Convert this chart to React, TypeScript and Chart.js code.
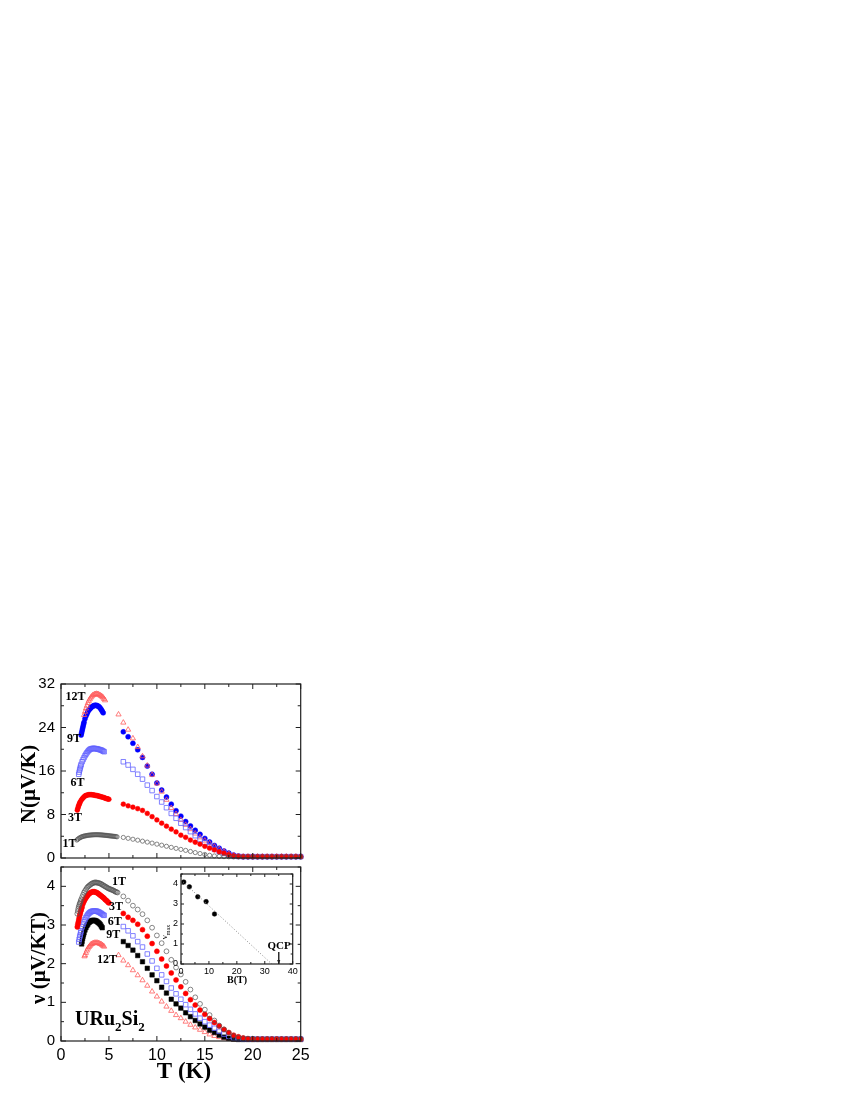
import React, { useEffect, useRef } from "react";
import { Chart, registerables } from "chart.js";
Chart.register(...registerables);

const SERIF = '"Liberation Serif", "Times New Roman", serif';
const SANS = '"Liberation Sans", Arial, sans-serif';

// ---------- shared high-temperature grid ----------
const tHigh = [6, 6.5, 7, 7.5, 8, 8.5, 9, 9.5, 10, 10.5, 11, 11.5, 12, 12.5, 13, 13.5, 14, 14.5, 15, 15.5, 16, 16.5, 17, 17.5, 18, 18.5, 19, 19.5, 20, 20.5, 21, 21.5, 22, 22.5, 23, 23.5, 24, 24.5, 25];

// ---------- top panel: N (µV/K) ----------
const tTop1Low = [1.65, 1.75, 1.85, 1.95, 2.05, 2.15, 2.25, 2.35, 2.45, 2.55, 2.65, 2.75, 2.85, 2.95, 3.05, 3.15, 3.25, 3.35, 3.45, 3.55, 3.65, 3.75, 3.85, 3.95, 4.05, 4.15, 4.25, 4.35, 4.45, 4.55, 4.65, 4.75, 4.85, 4.95, 5.05, 5.15, 5.25, 5.35, 5.45, 5.55, 5.65, 5.75, 5.85];
const nTop1Low = [3.3, 3.45, 3.6, 3.7, 3.8, 3.88, 3.95, 4.0, 4.05, 4.08, 4.12, 4.15, 4.18, 4.2, 4.22, 4.24, 4.25, 4.26, 4.27, 4.28, 4.28, 4.28, 4.28, 4.27, 4.26, 4.25, 4.24, 4.22, 4.2, 4.18, 4.16, 4.15, 4.13, 4.11, 4.08, 4.06, 4.04, 4.02, 4.0, 3.98, 3.96, 3.93, 3.9];
const nTop1High = [null, 3.78, 3.62, 3.45, 3.28, 3.1, 2.92, 2.74, 2.55, 2.36, 2.16, 1.96, 1.77, 1.58, 1.4, 1.2, 1.0, 0.82, 0.65, 0.5, 0.38, 0.3, 0.25, 0.22, 0.2, 0.2, 0.2, 0.2, 0.2, 0.2, 0.2, 0.2, 0.2, 0.2, 0.2, 0.2, 0.2, 0.2, 0.2];

const tTop3Low = [1.7, 1.75, 1.8, 1.85, 1.9, 1.95, 2.0, 2.1, 2.2, 2.3, 2.4, 2.5, 2.6, 2.7, 2.8, 2.9, 3.0, 3.1, 3.2, 3.3, 3.4, 3.5, 3.6, 3.7, 3.8, 3.9, 4.0, 4.1, 4.2, 4.3, 4.4, 4.5, 4.6, 4.7, 4.8, 4.9, 5.0];
const nTop3Low = [8.8, 9.1, 9.4, 9.65, 9.9, 10.1, 10.3, 10.6, 10.85, 11.05, 11.25, 11.4, 11.5, 11.55, 11.6, 11.65, 11.65, 11.65, 11.65, 11.6, 11.6, 11.55, 11.5, 11.5, 11.45, 11.4, 11.35, 11.3, 11.25, 11.2, 11.15, 11.1, 11.0, 10.95, 10.9, 10.85, 10.8];
const nTop3High = [null, 9.9, 9.6, 9.35, 9.07, 8.75, 8.2, 7.6, 7.0, 6.4, 5.85, 5.3, 4.8, 4.2, 3.8, 3.3, 2.9, 2.55, 2.15, 1.8, 1.5, 1.15, 0.88, 0.6, 0.4, 0.3, 0.25, 0.25, 0.25, 0.25, 0.25, 0.25, 0.25, 0.25, 0.25, 0.25, 0.25, 0.25, 0.25];

const tTop6Low = [1.85, 1.9, 1.95, 2.0, 2.05, 2.1, 2.2, 2.3, 2.4, 2.5, 2.6, 2.7, 2.8, 2.9, 3.0, 3.1, 3.2, 3.3, 3.4, 3.5, 3.6, 3.7, 3.8, 3.9, 4.0, 4.1, 4.2, 4.3, 4.4, 4.5];
const nTop6Low = [15.4, 15.8, 16.2, 16.55, 16.9, 17.2, 17.7, 18.1, 18.45, 18.8, 19.1, 19.35, 19.6, 19.8, 19.95, 20.05, 20.1, 20.15, 20.15, 20.15, 20.1, 20.1, 20.05, 20.0, 19.95, 19.9, 19.85, 19.75, 19.65, 19.55];
const nTop6High = [null, 17.7, 17.1, 16.3, 15.4, 14.5, 13.4, 12.4, 11.3, 10.3, 9.25, 8.2, 7.3, 6.4, 5.6, 4.85, 4.1, 3.4, 2.8, 2.2, 1.6, 1.2, 0.85, 0.55, 0.35, 0.28, 0.25, 0.25, 0.25, 0.25, 0.25, 0.25, 0.25, 0.25, 0.25, 0.25, 0.25, 0.25, 0.25];

const tTop9Low = [2.1, 2.15, 2.2, 2.25, 2.3, 2.35, 2.4, 2.5, 2.6, 2.7, 2.8, 2.9, 3.0, 3.1, 3.2, 3.3, 3.4, 3.5, 3.6, 3.7, 3.8, 3.9, 4.0, 4.1, 4.2, 4.3, 4.4];
const nTop9Low = [22.6, 23.0, 23.4, 23.8, 24.2, 24.6, 24.95, 25.6, 26.1, 26.5, 26.9, 27.2, 27.4, 27.6, 27.75, 27.9, 28.0, 28.05, 28.1, 28.05, 28.0, 27.9, 27.75, 27.55, 27.3, 27.0, 26.7];
const nTop9High = [null, 23.2, 22.3, 21.1, 19.9, 18.5, 16.9, 15.4, 13.8, 12.5, 11.2, 9.9, 8.7, 7.7, 6.7, 5.9, 5.1, 4.35, 3.6, 2.95, 2.3, 1.8, 1.3, 0.9, 0.55, 0.35, 0.25, 0.25, 0.25, 0.25, 0.25, 0.25, 0.25, 0.25, 0.25, 0.25, 0.25, 0.25, 0.25];

const tTop12Low = [2.4, 2.5, 2.6, 2.7, 2.8, 2.9, 3.0, 3.1, 3.2, 3.3, 3.4, 3.5, 3.6, 3.7, 3.8, 3.9, 4.0, 4.1, 4.2, 4.3, 4.4, 4.5, 4.6];
const nTop12Low = [26.3, 26.9, 27.5, 28.0, 28.5, 28.9, 29.2, 29.5, 29.7, 29.9, 30.0, 30.1, 30.15, 30.2, 30.15, 30.1, 30.0, 29.9, 29.8, 29.65, 29.5, 29.25, 29.0];
const nTop12High = [26.4, 24.9, 23.6, 22.0, 20.4, 18.7, 17.0, 15.3, 13.7, 12.2, 10.7, 9.2, 8.1, 7.0, 6.1, 5.3, 4.5, 3.8, 3.2, 2.7, 2.1, 1.65, 1.2, 0.8, 0.5, 0.3, 0.25, 0.25, 0.25, 0.25, 0.25, 0.25, 0.25, 0.25, 0.25, 0.25, 0.25, 0.25, 0.25];

// ---------- bottom panel: nu (µV/KT) ----------
const tBot1Low = [1.7, 1.75, 1.8, 1.85, 1.9, 1.95, 2.0, 2.05, 2.1, 2.2, 2.3, 2.4, 2.5, 2.6, 2.7, 2.8, 2.9, 3.0, 3.1, 3.2, 3.3, 3.4, 3.5, 3.6, 3.7, 3.8, 3.9, 4.0, 4.1, 4.2, 4.3, 4.4, 4.5, 4.6, 4.7, 4.8, 4.9, 5.0, 5.1, 5.2, 5.3, 5.4, 5.5, 5.6, 5.7, 5.8, 5.9];
const vBot1Low = [3.29, 3.36, 3.42, 3.47, 3.51, 3.55, 3.58, 3.62, 3.66, 3.72, 3.78, 3.84, 3.88, 3.92, 3.96, 3.99, 4.01, 4.03, 4.05, 4.07, 4.08, 4.09, 4.1, 4.1, 4.1, 4.09, 4.09, 4.08, 4.07, 4.06, 4.04, 4.03, 4.01, 4.0, 3.98, 3.97, 3.95, 3.94, 3.93, 3.92, 3.91, 3.9, 3.89, 3.87, 3.86, 3.85, 3.84];
const vBot1High = [null, 3.74, 3.63, 3.5, 3.4, 3.28, 3.12, 2.93, 2.73, 2.53, 2.32, 2.1, 1.9, 1.72, 1.53, 1.33, 1.13, 0.96, 0.81, 0.67, 0.53, 0.4, 0.3, 0.21, 0.13, 0.09, 0.07, 0.06, 0.06, 0.05, 0.05, 0.05, 0.05, 0.05, 0.05, 0.05, 0.05, 0.05, 0.05];

const tBot3Low = [1.7, 1.75, 1.8, 1.85, 1.9, 1.95, 2.0, 2.05, 2.1, 2.15, 2.2, 2.3, 2.4, 2.5, 2.6, 2.7, 2.8, 2.9, 3.0, 3.1, 3.2, 3.3, 3.4, 3.5, 3.6, 3.7, 3.8, 3.9, 4.0, 4.1, 4.2, 4.3, 4.4, 4.5, 4.6, 4.7, 4.8, 4.9, 5.0];
const vBot3Low = [2.95, 3.01, 3.07, 3.13, 3.19, 3.25, 3.3, 3.35, 3.39, 3.43, 3.47, 3.55, 3.61, 3.66, 3.7, 3.74, 3.77, 3.8, 3.82, 3.84, 3.85, 3.86, 3.86, 3.86, 3.85, 3.84, 3.83, 3.81, 3.79, 3.77, 3.75, 3.73, 3.71, 3.69, 3.66, 3.64, 3.62, 3.59, 3.57];
const vBot3High = [null, 3.3, 3.2, 3.12, 3.02, 2.88, 2.71, 2.52, 2.32, 2.12, 1.94, 1.76, 1.58, 1.4, 1.23, 1.07, 0.93, 0.8, 0.69, 0.58, 0.48, 0.39, 0.3, 0.22, 0.15, 0.11, 0.08, 0.06, 0.05, 0.05, 0.05, 0.05, 0.05, 0.05, 0.05, 0.05, 0.05, 0.05, 0.05];

const tBot6Low = [1.85, 1.9, 1.95, 2.0, 2.05, 2.1, 2.2, 2.3, 2.4, 2.5, 2.6, 2.7, 2.8, 2.9, 3.0, 3.1, 3.2, 3.3, 3.4, 3.5, 3.6, 3.7, 3.8, 3.9, 4.0, 4.1, 4.2, 4.3, 4.4, 4.5];
const vBot6Low = [2.56, 2.63, 2.69, 2.74, 2.8, 2.85, 2.95, 3.02, 3.08, 3.14, 3.19, 3.23, 3.27, 3.3, 3.32, 3.34, 3.35, 3.36, 3.36, 3.36, 3.36, 3.36, 3.35, 3.34, 3.33, 3.31, 3.3, 3.28, 3.26, 3.25];
const vBot6High = [null, 2.96, 2.85, 2.72, 2.57, 2.43, 2.25, 2.07, 1.88, 1.71, 1.54, 1.37, 1.22, 1.08, 0.94, 0.82, 0.7, 0.59, 0.5, 0.41, 0.33, 0.25, 0.18, 0.12, 0.08, 0.06, 0.05, 0.05, 0.05, 0.05, 0.05, 0.05, 0.05, 0.05, 0.05, 0.05, 0.05, 0.05, 0.05];

const tBot9Low = [2.15, 2.2, 2.25, 2.3, 2.35, 2.4, 2.5, 2.6, 2.7, 2.8, 2.9, 3.0, 3.1, 3.2, 3.3, 3.4, 3.5, 3.6, 3.7, 3.8, 3.9, 4.0, 4.1, 4.2, 4.3];
const vBot9Low = [2.51, 2.58, 2.65, 2.71, 2.76, 2.8, 2.87, 2.93, 2.98, 3.02, 3.06, 3.08, 3.1, 3.11, 3.12, 3.12, 3.12, 3.11, 3.1, 3.08, 3.06, 3.04, 3.01, 2.97, 2.93];
const vBot9High = [null, 2.57, 2.47, 2.35, 2.21, 2.05, 1.88, 1.71, 1.56, 1.39, 1.24, 1.08, 0.96, 0.85, 0.73, 0.63, 0.53, 0.44, 0.36, 0.28, 0.22, 0.15, 0.1, 0.07, 0.05, 0.04, 0.04, 0.04, 0.04, 0.04, 0.04, 0.04, 0.04, 0.04, 0.04, 0.04, 0.04, 0.04, 0.04];

const tBot12Low = [2.45, 2.5, 2.6, 2.7, 2.8, 2.9, 3.0, 3.1, 3.2, 3.3, 3.4, 3.5, 3.6, 3.7, 3.8, 3.9, 4.0, 4.1, 4.2, 4.3, 4.4, 4.5];
const vBot12Low = [2.19, 2.22, 2.28, 2.34, 2.39, 2.43, 2.46, 2.49, 2.51, 2.52, 2.53, 2.54, 2.54, 2.54, 2.54, 2.53, 2.52, 2.51, 2.5, 2.48, 2.46, 2.44];
const vBot12High = [2.22, 2.08, 1.96, 1.83, 1.7, 1.57, 1.43, 1.28, 1.15, 1.02, 0.89, 0.78, 0.67, 0.59, 0.5, 0.42, 0.35, 0.29, 0.23, 0.17, 0.13, 0.1, 0.07, 0.05, 0.04, 0.04, 0.04, 0.04, 0.04, 0.04, 0.04, 0.04, 0.04, 0.04, 0.04, 0.04, 0.04, 0.04, 0.04];

// ---------- inset: nu_max vs B ----------
const insetB = [1, 3, 6, 9, 12];
const insetVmax = [4.1, 3.86, 3.36, 3.12, 2.5];
const fitB = [0, 32.5];
const fitV = [4.2, 0];
const qcpB = [35, 35];
const qcpV = [0.6, 0];

const fieldLabels = ["12T", "9T", "6T", "3T", "1T"];

type Pt = { x: number; y: number };
const toPts = (t: number[], v: (number | null)[]): Pt[] =>
  t.map((x, i) => ({ x, y: v[i] as number })).filter((p) => p.y !== null && p.y !== undefined);

const ds = (data: Pt[], style: string, radius: number, color: string, filled: boolean, bw = 1) => ({
  data,
  showLine: false,
  pointStyle: style,
  pointRadius: radius,
  pointHoverRadius: radius,
  pointBackgroundColor: filled ? color : "rgba(0,0,0,0)",
  pointBorderColor: color,
  pointBorderWidth: bw,
  clip: false as any,
});

const C1 = "#555555";
const C3 = "#ff0000";
const C6 = "#6262ff";
const C9 = "#0000ff";
const C12 = "#ff5c5c";

type DecoOpts = {
  ox: number;
  oy: number;
  xMinor: number;
  xMajor: number;
  yMinor: number;
  yMajor: number;
  majorLen: number;
  minorLen: number;
  draw?: (ctx: CanvasRenderingContext2D, chart: any, P: (x: number, y: number) => [number, number]) => void;
};

function decoPlugin(o: DecoOpts) {
  return {
    id: "deco",
    afterDraw(chart: any) {
      const ctx: CanvasRenderingContext2D = chart.ctx;
      const a = chart.chartArea;
      const xs = chart.scales.x;
      const ys = chart.scales.y;
      ctx.save();
      ctx.strokeStyle = "#1e1e1e";
      ctx.lineWidth = 1.2;
      ctx.strokeRect(a.left, a.top, a.right - a.left, a.bottom - a.top);
      ctx.lineWidth = 1;
      ctx.beginPath();
      for (let v = xs.min; v <= xs.max + 1e-9; v += o.xMinor) {
        const r = v / o.xMajor;
        const len = Math.abs(r - Math.round(r)) < 1e-6 ? o.majorLen : o.minorLen;
        const px = xs.getPixelForValue(v);
        ctx.moveTo(px, a.bottom);
        ctx.lineTo(px, a.bottom - len);
        ctx.moveTo(px, a.top);
        ctx.lineTo(px, a.top + len);
      }
      for (let v = ys.min; v <= ys.max + 1e-9; v += o.yMinor) {
        const r = v / o.yMajor;
        const len = Math.abs(r - Math.round(r)) < 1e-6 ? o.majorLen : o.minorLen;
        const py = ys.getPixelForValue(v);
        ctx.moveTo(a.left, py);
        ctx.lineTo(a.left + len, py);
        ctx.moveTo(a.right, py);
        ctx.lineTo(a.right - len, py);
      }
      ctx.stroke();
      ctx.restore();
      if (o.draw) {
        ctx.save();
        o.draw(ctx, chart, (x, y) => [x - o.ox, y - o.oy]);
        ctx.restore();
      }
    },
  };
}

function txt(ctx: CanvasRenderingContext2D, s: string, x: number, y: number, font: string, rot = 0, align: CanvasTextAlign = "center") {
  ctx.save();
  ctx.translate(x, y);
  if (rot) ctx.rotate(rot);
  ctx.font = font;
  ctx.fillStyle = "#000";
  ctx.textAlign = align;
  ctx.textBaseline = "middle";
  ctx.fillText(s, 0, 0);
  ctx.restore();
}

const yScale = (min: number, max: number, step: number, width: number, size: number, pad: number) => ({
  type: "linear",
  position: "left",
  min,
  max,
  grid: { display: false, drawTicks: false, tickLength: 0 },
  border: { display: false },
  ticks: { stepSize: step, includeBounds: false, font: { family: SANS, size }, color: "#000", padding: pad },
  afterFit: (s: any) => {
    s.width = width;
  },
});

const xScale = (min: number, max: number, step: number, show: boolean, height: number, size: number, pad: number) => ({
  type: "linear",
  position: "bottom",
  min,
  max,
  display: show,
  grid: { display: false, drawTicks: false, tickLength: 0 },
  border: { display: false },
  ticks: { stepSize: step, includeBounds: false, font: { family: SANS, size }, color: "#000", padding: pad, maxRotation: 0, autoSkip: false },
  afterFit: (s: any) => {
    s.height = height;
  },
});

export default function App() {
  const topRef = useRef<HTMLCanvasElement>(null);
  const botRef = useRef<HTMLCanvasElement>(null);
  const insRef = useRef<HTMLCanvasElement>(null);

  useEffect(() => {
    const charts: Chart[] = [];

    // ---- top panel ----
    const topDatasets = [
      ds(toPts(tTop1Low, nTop1Low).concat(toPts(tHigh, nTop1High)), "circle", 2.1, C1, false, 0.7),
      ds(toPts(tTop3Low, nTop3Low).concat(toPts(tHigh, nTop3High)), "circle", 2.4, C3, true, 0.5),
      ds(toPts(tTop6Low, nTop6Low).concat(toPts(tHigh, nTop6High)), "rect", 3.2, C6, false, 0.8),
      ds(toPts(tTop12Low, nTop12Low).concat(toPts(tHigh, nTop12High)), "triangle", 3.0, C12, false, 0.8),
      ds(toPts(tTop9Low, nTop9Low).concat(toPts(tHigh, nTop9High)), "circle", 2.5, C9, true, 0.5),
    ];
    charts.push(
      new Chart(topRef.current as HTMLCanvasElement, {
        type: "scatter",
        data: { datasets: topDatasets as any },
        options: {
          animation: false,
          responsive: false,
          devicePixelRatio: 1,
          layout: { padding: { left: 0, right: 29.3, top: 54, bottom: 17 } },
          plugins: { legend: { display: false }, tooltip: { enabled: false } },
          scales: {
            x: xScale(0, 25, 5, false, 0, 15, 4) as any,
            y: yScale(0, 32, 8, 61, 15, 6) as any,
          },
        },
        plugins: [
          decoPlugin({
            ox: 0,
            oy: 630,
            xMinor: 2.5,
            xMajor: 5,
            yMinor: 4,
            yMajor: 8,
            majorLen: 5,
            minorLen: 3,
            draw: (ctx, chart, P) => {
              const lf = `bold 12px ${SERIF}`;
              const pos: [number, number][] = [
                [75.5, 697],
                [74, 739],
                [77.5, 783],
                [75, 818],
                [69.5, 844],
              ];
              fieldLabels.forEach((s, i) => {
                const [x, y] = P(pos[i][0], pos[i][1]);
                txt(ctx, s, x, y, lf);
              });
              const [tx, ty] = P(30, 784);
              txt(ctx, "N(\u03BCV/K)", tx, ty, `bold 21px ${SERIF}`, -Math.PI / 2);
            },
          }),
        ],
      })
    );

    // ---- bottom panel ----
    const botDatasets = [
      ds(toPts(tBot1Low, vBot1Low).concat(toPts(tHigh, vBot1High)), "circle", 2.4, C1, false, 0.7),
      ds(toPts(tBot3Low, vBot3Low).concat(toPts(tHigh, vBot3High)), "circle", 2.5, C3, true, 0.5),
      ds(toPts(tBot6Low, vBot6Low).concat(toPts(tHigh, vBot6High)), "rect", 3.2, C6, false, 0.8),
      ds(toPts(tBot9Low, vBot9Low).concat(toPts(tHigh, vBot9High)), "rect", 3.2, "#000000", true, 0.5),
      ds(toPts(tBot12Low, vBot12Low).concat(toPts(tHigh, vBot12High)), "triangle", 3.0, C12, false, 0.8),
    ];
    charts.push(
      new Chart(botRef.current as HTMLCanvasElement, {
        type: "scatter",
        data: { datasets: botDatasets as any },
        options: {
          animation: false,
          responsive: false,
          devicePixelRatio: 1,
          layout: { padding: { left: 0, right: 29.3, top: 27, bottom: 0 } },
          plugins: { legend: { display: false }, tooltip: { enabled: false } },
          scales: {
            x: xScale(0, 25, 5, true, 59, 16, 5) as any,
            y: yScale(0, 4.5, 1, 61, 15, 6) as any,
          },
        },
        plugins: [
          decoPlugin({
            ox: 0,
            oy: 840,
            xMinor: 2.5,
            xMajor: 5,
            yMinor: 0.5,
            yMajor: 1,
            majorLen: 5,
            minorLen: 3,
            draw: (ctx, chart, P) => {
              const lf = `bold 12px ${SERIF}`;
              const pos: [number, number][] = [
                [107, 960],
                [113.3, 934.7],
                [114.7, 922],
                [116, 907],
                [119, 882],
              ];
              fieldLabels.forEach((s, i) => {
                const [x, y] = P(pos[i][0], pos[i][1]);
                txt(ctx, s, x, y, lf);
              });
              const [yx, yy] = P(40, 958);
              txt(ctx, "\u03BD (\u03BCV/KT)", yx, yy, `bold 21px ${SERIF}`, -Math.PI / 2);
              const [xx, xy] = P(184, 1072);
              txt(ctx, "T (K)", xx, xy, `bold 23px ${SERIF}`);
              // URu2Si2 with subscripts
              const [sx, sy] = P(75, 1025);
              const big = `bold 20px ${SERIF}`;
              const small = `bold 13px ${SERIF}`;
              const parts: [string, boolean][] = [
                ["URu", false],
                ["2", true],
                ["Si", false],
                ["2", true],
              ];
              let cx = sx;
              ctx.fillStyle = "#000";
              ctx.textAlign = "left";
              ctx.textBaseline = "alphabetic";
              parts.forEach(([s, sub]) => {
                ctx.font = sub ? small : big;
                ctx.fillText(s, cx, sub ? sy + 6 : sy);
                cx += ctx.measureText(s).width;
              });
            },
          }),
        ],
      })
    );

    // ---- inset ----
    const insetDatasets = [
      {
        data: toPts(fitB, fitV),
        showLine: true,
        borderColor: "#8a8a8a",
        borderWidth: 1,
        borderDash: [1, 2],
        pointRadius: 0,
        pointHoverRadius: 0,
      },
      {
        data: toPts(qcpB, qcpV),
        showLine: true,
        borderColor: "#222",
        borderWidth: 0.8,
        pointRadius: 0,
        pointHoverRadius: 0,
      },
      ds(toPts(insetB, insetVmax), "circle", 2.3, "#000000", true, 0.5),
    ];
    charts.push(
      new Chart(insRef.current as HTMLCanvasElement, {
        type: "scatter",
        data: { datasets: insetDatasets as any },
        options: {
          animation: false,
          responsive: false,
          devicePixelRatio: 1,
          layout: { padding: { left: 0, right: 12.3, top: 24, bottom: 0 } },
          plugins: { legend: { display: false }, tooltip: { enabled: false } },
          scales: {
            x: xScale(0, 40, 10, true, 26, 9, 2) as any,
            y: yScale(0, 4.5, 1, 41, 9, 3) as any,
          },
        },
        plugins: [
          decoPlugin({
            ox: 140,
            oy: 850,
            xMinor: 5,
            xMajor: 10,
            yMinor: 0.5,
            yMajor: 1,
            majorLen: 3,
            minorLen: 2,
            draw: (ctx, chart, P) => {
              const xs = chart.scales.x;
              const ys = chart.scales.y;
              // arrow head at QCP
              const ax = xs.getPixelForValue(qcpB[1]);
              const ay = ys.getPixelForValue(qcpV[1]);
              ctx.fillStyle = "#222";
              ctx.beginPath();
              ctx.moveTo(ax, ay);
              ctx.lineTo(ax - 1.6, ay - 4);
              ctx.lineTo(ax + 1.6, ay - 4);
              ctx.closePath();
              ctx.fill();
              const [qx, qy] = P(279, 946);
              txt(ctx, "QCP", qx, qy, `bold 11px ${SERIF}`);
              const [bx, by] = P(237, 980);
              txt(ctx, "B(T)", bx, by, `bold 10px ${SERIF}`);
              // nu_max rotated label
              const [vx, vy] = P(165, 932);
              ctx.save();
              ctx.translate(vx, vy);
              ctx.rotate(-Math.PI / 2);
              ctx.fillStyle = "#000";
              ctx.textBaseline = "alphabetic";
              ctx.textAlign = "left";
              ctx.font = `9px ${SERIF}`;
              const w1 = ctx.measureText("\u03BD").width;
              ctx.font = `6px ${SERIF}`;
              const w2 = ctx.measureText("max").width;
              const start = -(w1 + w2) / 2;
              ctx.font = `9px ${SERIF}`;
              ctx.fillText("\u03BD", start, 2);
              ctx.font = `6px ${SERIF}`;
              ctx.fillText("max", start + w1, 4.5);
              ctx.restore();
            },
          }),
        ],
      })
    );

    return () => {
      charts.forEach((c) => c.destroy());
    };
  }, []);

  return (
    <div style={{ position: "absolute", left: 0, top: 0, width: 850, height: 1100, background: "#ffffff" }}>
      <canvas ref={topRef} width={330} height={245} style={{ position: "absolute", left: 0, top: 630, width: 330, height: 245 }} />
      <canvas ref={botRef} width={330} height={260} style={{ position: "absolute", left: 0, top: 840, width: 330, height: 260 }} />
      <canvas ref={insRef} width={165} height={140} style={{ position: "absolute", left: 140, top: 850, width: 165, height: 140 }} />
    </div>
  );
}
